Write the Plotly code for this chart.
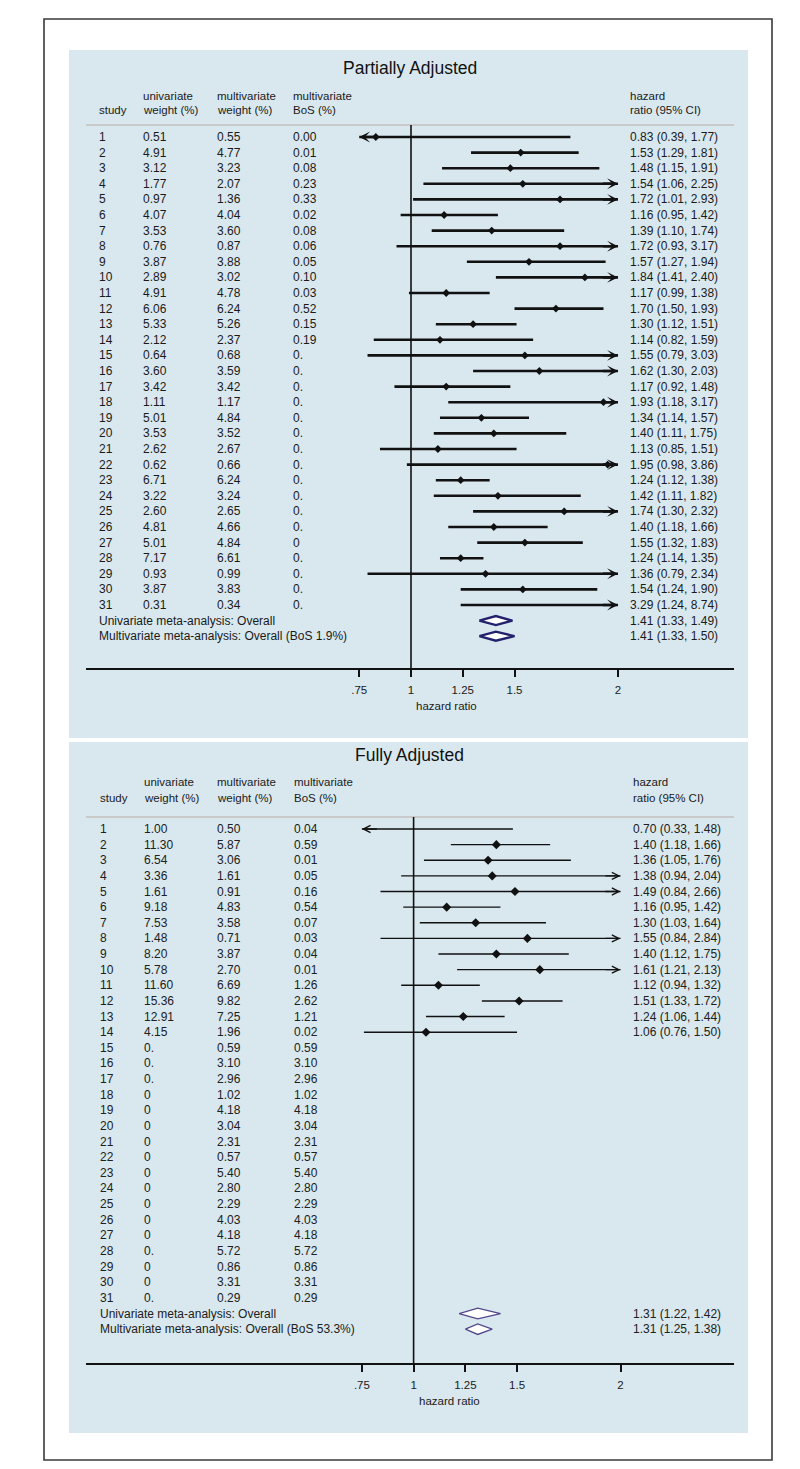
import plotly.graph_objects as go

W, H = 800, 1469
FONT = "Liberation Sans, Arial, sans-serif"

# ---------------- data ----------------
studies = [str(i) for i in range(1, 32)]

# Partially adjusted
pa_uni_w = ["0.51", "4.91", "3.12", "1.77", "0.97", "4.07", "3.53", "0.76", "3.87", "2.89",
            "4.91", "6.06", "5.33", "2.12", "0.64", "3.60", "3.42", "1.11", "5.01", "3.53",
            "2.62", "0.62", "6.71", "3.22", "2.60", "4.81", "5.01", "7.17", "0.93", "3.87", "0.31"]
pa_multi_w = ["0.55", "4.77", "3.23", "2.07", "1.36", "4.04", "3.60", "0.87", "3.88", "3.02",
              "4.78", "6.24", "5.26", "2.37", "0.68", "3.59", "3.42", "1.17", "4.84", "3.52",
              "2.67", "0.66", "6.24", "3.24", "2.65", "4.66", "4.84", "6.61", "0.99", "3.83", "0.34"]
pa_bos = ["0.00", "0.01", "0.08", "0.23", "0.33", "0.02", "0.08", "0.06", "0.05", "0.10",
          "0.03", "0.52", "0.15", "0.19", "0.", "0.", "0.", "0.", "0.", "0.",
          "0.", "0.", "0.", "0.", "0.", "0.", "0", "0.", "0.", "0.", "0."]
pa_hr = [0.83, 1.53, 1.48, 1.54, 1.72, 1.16, 1.39, 1.72, 1.57, 1.84, 1.17, 1.70, 1.30, 1.14, 1.55,
         1.62, 1.17, 1.93, 1.34, 1.40, 1.13, 1.95, 1.24, 1.42, 1.74, 1.40, 1.55, 1.24, 1.36, 1.54, 3.29]
pa_lo = [0.39, 1.29, 1.15, 1.06, 1.01, 0.95, 1.10, 0.93, 1.27, 1.41, 0.99, 1.50, 1.12, 0.82, 0.79,
         1.30, 0.92, 1.18, 1.14, 1.11, 0.85, 0.98, 1.12, 1.11, 1.30, 1.18, 1.32, 1.14, 0.79, 1.24, 1.24]
pa_hi = [1.77, 1.81, 1.91, 2.25, 2.93, 1.42, 1.74, 3.17, 1.94, 2.40, 1.38, 1.93, 1.51, 1.59, 3.03,
         2.03, 1.48, 3.17, 1.57, 1.75, 1.51, 3.86, 1.38, 1.82, 2.32, 1.66, 1.83, 1.35, 2.34, 1.90, 8.74]
pa_ov_labels = ["Univariate meta-analysis: Overall", "Multivariate meta-analysis: Overall (BoS 1.9%)"]
pa_ov_hr = [1.41, 1.41]
pa_ov_lo = [1.33, 1.33]
pa_ov_hi = [1.49, 1.50]

# Fully adjusted
fa_uni_w = ["1.00", "11.30", "6.54", "3.36", "1.61", "9.18", "7.53", "1.48", "8.20", "5.78",
            "11.60", "15.36", "12.91", "4.15", "0.", "0.", "0.", "0", "0", "0",
            "0", "0", "0", "0", "0", "0", "0", "0.", "0", "0", "0."]
fa_multi_w = ["0.50", "5.87", "3.06", "1.61", "0.91", "4.83", "3.58", "0.71", "3.87", "2.70",
              "6.69", "9.82", "7.25", "1.96", "0.59", "3.10", "2.96", "1.02", "4.18", "3.04",
              "2.31", "0.57", "5.40", "2.80", "2.29", "4.03", "4.18", "5.72", "0.86", "3.31", "0.29"]
fa_bos = ["0.04", "0.59", "0.01", "0.05", "0.16", "0.54", "0.07", "0.03", "0.04", "0.01",
          "1.26", "2.62", "1.21", "0.02", "0.59", "3.10", "2.96", "1.02", "4.18", "3.04",
          "2.31", "0.57", "5.40", "2.80", "2.29", "4.03", "4.18", "5.72", "0.86", "3.31", "0.29"]
fa_hr = [0.70, 1.40, 1.36, 1.38, 1.49, 1.16, 1.30, 1.55, 1.40, 1.61, 1.12, 1.51, 1.24, 1.06]
fa_lo = [0.33, 1.18, 1.05, 0.94, 0.84, 0.95, 1.03, 0.84, 1.12, 1.21, 0.94, 1.33, 1.06, 0.76]
fa_hi = [1.48, 1.66, 1.76, 2.04, 2.66, 1.42, 1.64, 2.84, 1.75, 2.13, 1.32, 1.72, 1.44, 1.50]
fa_ov_labels = ["Univariate meta-analysis: Overall", "Multivariate meta-analysis: Overall (BoS 53.3%)"]
fa_ov_hr = [1.31, 1.31]
fa_ov_lo = [1.22, 1.25]
fa_ov_hi = [1.42, 1.38]

tick_vals = [0.75, 1, 1.25, 1.5, 2]
tick_text = [".75", "1", "1.25", "1.5", "2"]
header_cols = [("", "study"), ("univariate", "weight (%)"), ("multivariate", "weight (%)"),
               ("multivariate", "BoS (%)"), ("hazard", "ratio (95% CI)")]
NULL_HR = 1.0
CLIP = (0.75, 2.0)

# ---------------- layout geometry (pixels) ----------------
PANELS = [
    dict(title="Partially Adjusted", blue=(61, 42, 740, 730), left=78, right=726, top=66, bottom=660,
         title_y=60, head1=88, head2=102, sep=117, row1=129, step=15.6, one_px=403.0, ppu=207.0,
         cols=[89, 133, 207, 283, 620], axis_title=(438, 698),
         lw=2.6, head=3, hsize=0.7, mk=6, dcol="#23206e", dlw=2.4, dh=0.29, tcol="#1a1a1a"),
    dict(title="Fully Adjusted", blue=(61, 734, 740, 1425), left=78, right=726, top=758, bottom=1355,
         title_y=747, head1=774, head2=790, sep=809, row1=821, step=15.63, one_px=405.6, ppu=206.9,
         cols=[90, 134, 207, 284, 623], axis_title=(441, 1393),
         lw=1.4, head=5, hsize=1.0, mk=7, dcol="#51478a", dlw=1.3, dh=0.34, tcol="#202020"),
]

datasets = [
    (pa_uni_w, pa_multi_w, pa_bos, pa_hr, pa_lo, pa_hi, pa_ov_labels, pa_ov_hr, pa_ov_lo, pa_ov_hi),
    (fa_uni_w, fa_multi_w, fa_bos, fa_hr, fa_lo, fa_hi, fa_ov_labels, fa_ov_hr, fa_ov_lo, fa_ov_hi),
]


def px(v):
    return v / W


def py(v):
    return 1 - v / H


fig = go.Figure()
shapes = []
annotations = []

# outer frame
shapes.append(dict(type="rect", xref="paper", yref="paper", x0=px(36), x1=px(764), y0=py(1452), y1=py(11),
                   line=dict(color="#3a3a3a", width=1.6), fillcolor="rgba(0,0,0,0)", layer="above"))

for k, (g, d) in enumerate(zip(PANELS, datasets), start=1):
    uni_w, multi_w, bos, hr, lo, hi, ov_labels, ov_hr, ov_lo, ov_hi = d
    xname = "x" if k == 1 else f"x{k}"
    yname = "y" if k == 1 else f"y{k}"
    xa = "xaxis" if k == 1 else f"xaxis{k}"
    ya = "yaxis" if k == 1 else f"yaxis{k}"

    xr0 = 1 + (g["left"] - g["one_px"]) / g["ppu"]
    xr1 = 1 + (g["right"] - g["one_px"]) / g["ppu"]
    rt = 1 + (g["top"] - g["row1"]) / g["step"]
    rb = 1 + (g["bottom"] - g["row1"]) / g["step"]

    fig.update_layout({
        xa: dict(domain=[px(g["left"]), px(g["right"])], range=[xr0, xr1], anchor=yname,
                 showgrid=False, zeroline=False, showline=True, linecolor="#111", linewidth=1.6,
                 ticks="outside", ticklen=7, tickwidth=1.6, tickcolor="#111",
                 tickvals=tick_vals, ticktext=tick_text, ticklabelstandoff=3,
                 tickfont=dict(family=FONT, size=11.5, color=g["tcol"]), fixedrange=True),
        ya: dict(domain=[py(g["bottom"]), py(g["top"])], range=[rb, rt], anchor=xname,
                 visible=False, showgrid=False, zeroline=False, fixedrange=True),
    })

    # blue panel background
    bx0, by0, bx1, by1 = g["blue"]
    shapes.append(dict(type="rect", xref="paper", yref="paper", x0=px(bx0), x1=px(bx1),
                       y0=py(by1), y1=py(by0), line=dict(width=0), fillcolor="#d9e8ef", layer="below"))
    # header separator
    shapes.append(dict(type="line", xref="paper", yref="paper", x0=px(g["left"]), x1=px(g["right"]),
                       y0=py(g["sep"]), y1=py(g["sep"]), line=dict(color="#c9c9c9", width=2)))
    # null line
    sep_row = 1 + (g["sep"] - g["row1"]) / g["step"]
    shapes.append(dict(type="line", xref=xname, yref=yname, x0=NULL_HR, x1=NULL_HR,
                       y0=sep_row, y1=rb, line=dict(color="#111", width=1.6)))

    # title
    annotations.append(dict(text=g["title"], xref="paper", yref="paper", x=px(402), y=py(g["title_y"]),
                            xanchor="center", yanchor="middle", showarrow=False,
                            font=dict(family=FONT, size=17.5, color="#111")))
    # axis title
    annotations.append(dict(text="hazard ratio", xref="paper", yref="paper", x=px(g["axis_title"][0]),
                            y=py(g["axis_title"][1]), xanchor="center", yanchor="middle", showarrow=False,
                            font=dict(family=FONT, size=11.5, color=g["tcol"])))
    # headers
    for (l1, l2), cx in zip(header_cols, g["cols"]):
        for txt, yy in ((l1, g["head1"]), (l2, g["head2"])):
            if txt:
                annotations.append(dict(text=txt, xref="paper", yref="paper", x=px(cx), y=py(yy),
                                        xanchor="left", yanchor="middle", showarrow=False,
                                        font=dict(family=FONT, size=11.5, color=g["tcol"])))

    rows = list(range(1, len(studies) + 1))
    # table text
    for r, cols in zip(rows, zip(studies, uni_w, multi_w, bos)):
        for txt, cx in zip(cols, g["cols"][:4]):
            annotations.append(dict(text=txt, xref="paper", yref=yname, x=px(cx), y=r,
                                    xanchor="left", yanchor="middle", showarrow=False,
                                    font=dict(family=FONT, size=12, color=g["tcol"])))
    for r, (e, l, h) in zip(rows, zip(hr, lo, hi)):
        annotations.append(dict(text=f"{e:.2f} ({l:.2f}, {h:.2f})", xref="paper", yref=yname,
                                x=px(g["cols"][4]), y=r, xanchor="left", yanchor="middle", showarrow=False,
                                font=dict(family=FONT, size=12, color=g["tcol"])))

    # CI lines, points, arrows
    lx, ly, mx, my = [], [], [], []
    for r, (e, l, h) in zip(rows, zip(hr, lo, hi)):
        lx += [max(l, CLIP[0]), min(h, CLIP[1]), None]
        ly += [r, r, None]
        if CLIP[0] <= e <= CLIP[1]:
            mx.append(e)
            my.append(r)
        if l < CLIP[0]:
            annotations.append(dict(x=CLIP[0], y=r, ax=CLIP[0] + 0.08, ay=r, xref=xname, yref=yname,
                                    axref=xname, ayref=yname, text="", showarrow=True,
                                    arrowhead=g["head"], arrowsize=g["hsize"], arrowwidth=g["lw"],
                                    arrowcolor="#111", standoff=0))
        if h > CLIP[1]:
            annotations.append(dict(x=CLIP[1], y=r, ax=CLIP[1] - 0.08, ay=r, xref=xname, yref=yname,
                                    axref=xname, ayref=yname, text="", showarrow=True,
                                    arrowhead=g["head"], arrowsize=g["hsize"], arrowwidth=g["lw"],
                                    arrowcolor="#111", standoff=0))
    fig.add_trace(go.Scatter(x=lx, y=ly, xaxis=xname, yaxis=yname, mode="lines",
                             line=dict(color="#111", width=g["lw"]), hoverinfo="skip", showlegend=False))
    fig.add_trace(go.Scatter(x=mx, y=my, xaxis=xname, yaxis=yname, mode="markers",
                             marker=dict(symbol="diamond", size=g["mk"], color="#111"),
                             showlegend=False))

    # overall rows
    n = len(studies)
    for j, (lab, e, l, h) in enumerate(zip(ov_labels, ov_hr, ov_lo, ov_hi)):
        r = n + 1 + j
        annotations.append(dict(text=lab, xref="paper", yref=yname, x=px(g["cols"][0]), y=r,
                                xanchor="left", yanchor="middle", showarrow=False,
                                font=dict(family=FONT, size=12, color=g["tcol"])))
        annotations.append(dict(text=f"{e:.2f} ({l:.2f}, {h:.2f})", xref="paper", yref=yname,
                                x=px(g["cols"][4]), y=r, xanchor="left", yanchor="middle", showarrow=False,
                                font=dict(family=FONT, size=12, color=g["tcol"])))
        dh = g["dh"]
        fig.add_trace(go.Scatter(x=[l, e, h, e, l], y=[r, r - dh, r, r + dh, r], xaxis=xname, yaxis=yname,
                                 mode="lines", fill="toself", fillcolor="white",
                                 line=dict(color=g["dcol"], width=g["dlw"]), showlegend=False,
                                 hoverinfo="skip"))

fig.update_layout(width=W, height=H, margin=dict(l=0, r=0, t=0, b=0), autosize=False,
                  paper_bgcolor="white", plot_bgcolor="white", showlegend=False,
                  shapes=shapes, annotations=annotations, font=dict(family=FONT))

fig.write_html("out.html")
